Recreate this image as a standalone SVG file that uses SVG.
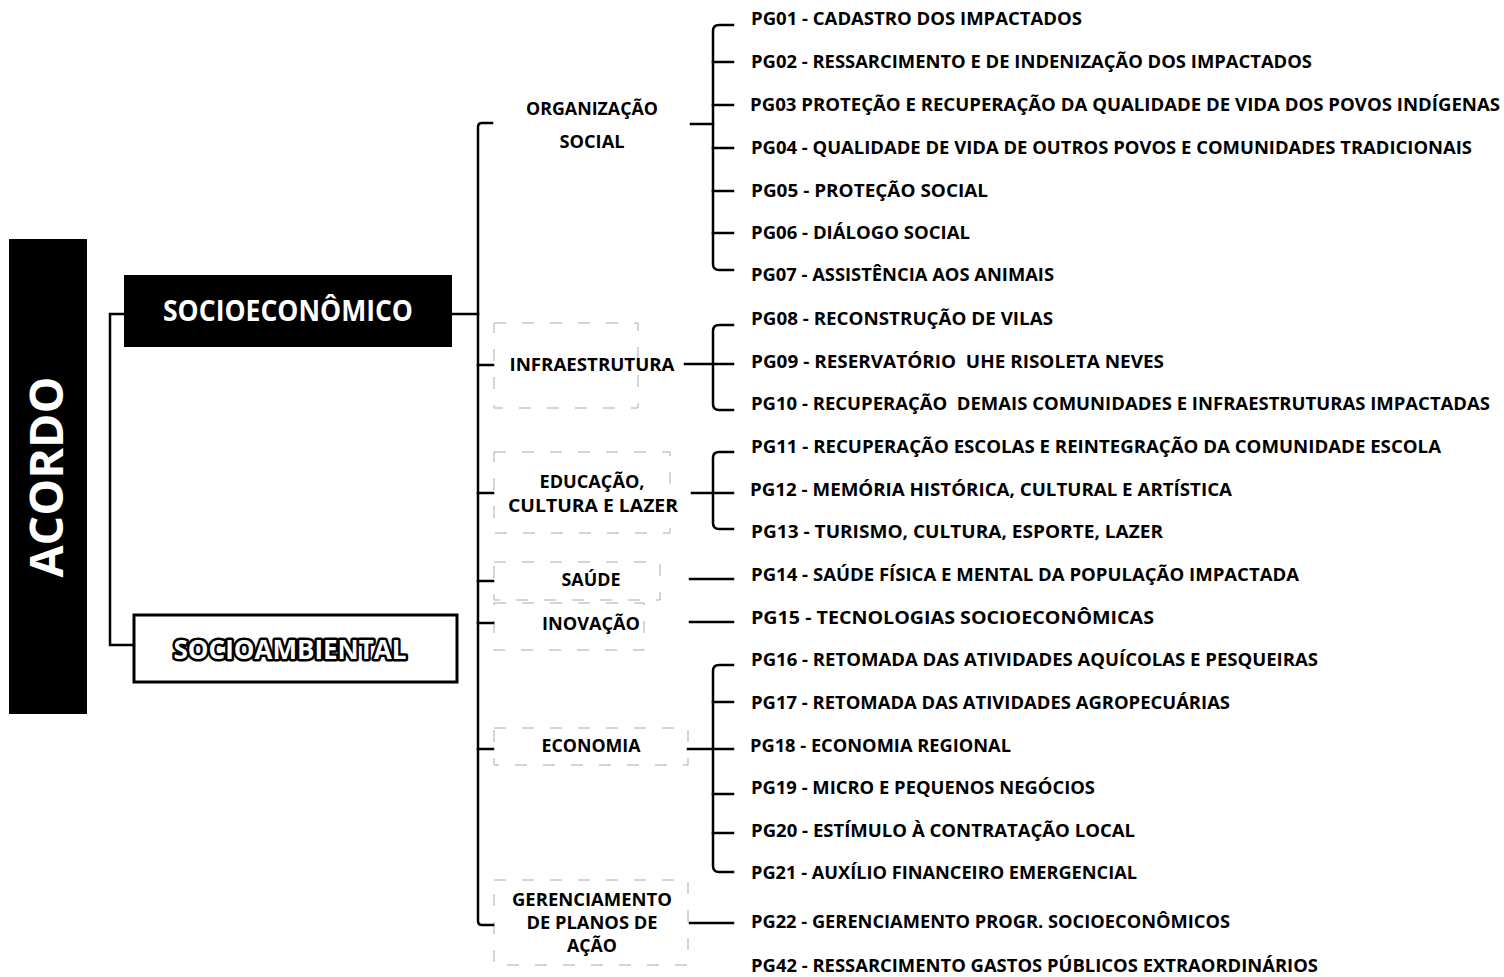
<svg xmlns="http://www.w3.org/2000/svg" width="1504" height="977" viewBox="0 0 1504 977">
<style>
text{font-family:"Open Sans","DejaVu Sans",sans-serif;font-weight:700;fill:#000}
.it{font-size:17.5px;white-space:pre}
.cat{font-size:17.5px;text-anchor:middle}
.ln{fill:none;stroke:#000;stroke-width:2.5;stroke-linecap:square}
.dash{fill:none;stroke:#aaa;stroke-width:1;stroke-dasharray:12 16}
</style>
<rect width="1504" height="977" fill="#fff"/>
<g id="acordo">
<rect x="9" y="239" width="78" height="475" fill="#000"/>
<text transform="translate(63,477) rotate(-90)" text-anchor="middle" font-size="46" style="fill:#fff" textLength="201" lengthAdjust="spacingAndGlyphs">ACORDO</text>
</g>
<g id="socioeconomico">
<rect x="124" y="275" width="328" height="72" fill="#000"/>
<text x="288" y="321" text-anchor="middle" font-size="28" style="fill:#fff" textLength="250" lengthAdjust="spacingAndGlyphs">SOCIOECONÔMICO</text>
</g>
<g id="socioambiental">
<rect x="134" y="615" width="323" height="67" fill="#fff" stroke="#000" stroke-width="3"/>
<text x="290" y="659" text-anchor="middle" font-size="26" style="fill:#fff;stroke:#000;stroke-width:5;stroke-linejoin:round;paint-order:stroke" textLength="233" lengthAdjust="spacingAndGlyphs">SOCIOAMBIENTAL</text>
</g>
<g id="category-frames">
<rect class="dash" x="494" y="323" width="144" height="85"/>
<rect class="dash" x="494" y="452" width="176" height="81"/>
<rect class="dash" x="494" y="562" width="166" height="38"/>
<rect class="dash" x="494" y="603" width="150" height="47"/>
<rect class="dash" x="494" y="728" width="194" height="37"/>
<rect class="dash" x="494" y="880" width="194" height="85"/>
</g>
<g id="cat-organizacao">
<text class="cat" x="592" y="115" textLength="132" lengthAdjust="spacingAndGlyphs">ORGANIZAÇÃO</text>
<text class="cat" x="592" y="148" textLength="65" lengthAdjust="spacingAndGlyphs">SOCIAL</text>
</g>
<g id="cat-infraestrutura"><text class="cat" x="592" y="371" textLength="165" lengthAdjust="spacingAndGlyphs">INFRAESTRUTURA</text></g>
<g id="cat-educacao">
<text class="cat" x="592" y="488" textLength="105" lengthAdjust="spacingAndGlyphs">EDUCAÇÃO,</text>
<text class="cat" x="593" y="512" textLength="170" lengthAdjust="spacingAndGlyphs">CULTURA E LAZER</text>
</g>
<g id="cat-saude"><text class="cat" x="591" y="586" textLength="59" lengthAdjust="spacingAndGlyphs">SAÚDE</text></g>
<g id="cat-inovacao"><text class="cat" x="591" y="630" textLength="98" lengthAdjust="spacingAndGlyphs">INOVAÇÃO</text></g>
<g id="cat-economia"><text class="cat" x="591" y="752" textLength="99" lengthAdjust="spacingAndGlyphs">ECONOMIA</text></g>
<g id="cat-gerenciamento">
<text class="cat" x="592" y="906" textLength="160" lengthAdjust="spacingAndGlyphs">GERENCIAMENTO</text>
<text class="cat" x="592" y="929" textLength="131" lengthAdjust="spacingAndGlyphs">DE PLANOS DE</text>
<text class="cat" x="592" y="952" textLength="50" lengthAdjust="spacingAndGlyphs">AÇÃO</text>
</g>
<g id="connectors">
<path class="ln" d="M124,314 H110 V645 H133"/>
<path class="ln" d="M452,314 H478"/>
<path class="ln" d="M492,123 H482 Q478,123 478,127 V921 Q478,925 482,925 H493"/>
<path class="ln" d="M478,365 H493 M478,493 H493 M478,581 H493 M478,623 H493 M478,749 H493"/>
<path class="ln" d="M691,124 H713"/>
<path class="ln" d="M733,25 H719 Q713,25 713,31 V264 Q713,270 719,270 H733"/>
<path class="ln" d="M713,62 H733 M713,105 H733 M713,148 H733 M713,191 H733 M713,233 H733"/>
<path class="ln" d="M685,364 H733"/>
<path class="ln" d="M733,325 H719 Q713,325 713,331 V404 Q713,410 719,410 H733"/>
<path class="ln" d="M692,493 H733"/>
<path class="ln" d="M733,452 H719 Q713,452 713,458 V523 Q713,529 719,529 H733"/>
<path class="ln" d="M690,579 H733"/>
<path class="ln" d="M690,622 H733"/>
<path class="ln" d="M688,749 H733"/>
<path class="ln" d="M733,665 H719 Q713,665 713,671 V866 Q713,872 719,872 H733"/>
<path class="ln" d="M713,702 H733 M713,794 H733 M713,833 H733"/>
<path class="ln" d="M690,923 H733"/>
</g>
<g id="items">
<text class="it" x="751" y="25" textLength="331" lengthAdjust="spacingAndGlyphs">PG01 - CADASTRO DOS IMPACTADOS</text>
<text class="it" x="751" y="68" textLength="561" lengthAdjust="spacingAndGlyphs">PG02 - RESSARCIMENTO E DE INDENIZAÇÃO DOS IMPACTADOS</text>
<text class="it" x="750" y="111" textLength="750" lengthAdjust="spacingAndGlyphs">PG03 PROTEÇÃO E RECUPERAÇÃO DA QUALIDADE DE VIDA DOS POVOS INDÍGENAS</text>
<text class="it" x="751" y="154" textLength="721" lengthAdjust="spacingAndGlyphs">PG04 - QUALIDADE DE VIDA DE OUTROS POVOS E COMUNIDADES TRADICIONAIS</text>
<text class="it" x="751" y="197" textLength="237" lengthAdjust="spacingAndGlyphs">PG05 - PROTEÇÃO SOCIAL</text>
<text class="it" x="751" y="239" textLength="219" lengthAdjust="spacingAndGlyphs">PG06 - DIÁLOGO SOCIAL</text>
<text class="it" x="751" y="281" textLength="303" lengthAdjust="spacingAndGlyphs">PG07 - ASSISTÊNCIA AOS ANIMAIS</text>
<text class="it" x="751" y="325" textLength="302" lengthAdjust="spacingAndGlyphs">PG08 - RECONSTRUÇÃO DE VILAS</text>
<text class="it" x="751" y="368" textLength="413" lengthAdjust="spacingAndGlyphs">PG09 - RESERVATÓRIO  UHE RISOLETA NEVES</text>
<text class="it" x="751" y="410" textLength="739" lengthAdjust="spacingAndGlyphs">PG10 - RECUPERAÇÃO  DEMAIS COMUNIDADES E INFRAESTRUTURAS IMPACTADAS</text>
<text class="it" x="751" y="453" textLength="690" lengthAdjust="spacingAndGlyphs">PG11 - RECUPERAÇÃO ESCOLAS E REINTEGRAÇÃO DA COMUNIDADE ESCOLA</text>
<text class="it" x="750" y="496" textLength="482" lengthAdjust="spacingAndGlyphs">PG12 - MEMÓRIA HISTÓRICA, CULTURAL E ARTÍSTICA</text>
<text class="it" x="751" y="538" textLength="412" lengthAdjust="spacingAndGlyphs">PG13 - TURISMO, CULTURA, ESPORTE, LAZER</text>
<text class="it" x="751" y="581" textLength="548" lengthAdjust="spacingAndGlyphs">PG14 - SAÚDE FÍSICA E MENTAL DA POPULAÇÃO IMPACTADA</text>
<text class="it" x="751" y="624" textLength="403" lengthAdjust="spacingAndGlyphs">PG15 - TECNOLOGIAS SOCIOECONÔMICAS</text>
<text class="it" x="751" y="666" textLength="567" lengthAdjust="spacingAndGlyphs">PG16 - RETOMADA DAS ATIVIDADES AQUÍCOLAS E PESQUEIRAS</text>
<text class="it" x="751" y="709" textLength="479" lengthAdjust="spacingAndGlyphs">PG17 - RETOMADA DAS ATIVIDADES AGROPECUÁRIAS</text>
<text class="it" x="750" y="752" textLength="261" lengthAdjust="spacingAndGlyphs">PG18 - ECONOMIA REGIONAL</text>
<text class="it" x="751" y="794" textLength="344" lengthAdjust="spacingAndGlyphs">PG19 - MICRO E PEQUENOS NEGÓCIOS</text>
<text class="it" x="751" y="837" textLength="384" lengthAdjust="spacingAndGlyphs">PG20 - ESTÍMULO À CONTRATAÇÃO LOCAL</text>
<text class="it" x="751" y="879" textLength="386" lengthAdjust="spacingAndGlyphs">PG21 - AUXÍLIO FINANCEIRO EMERGENCIAL</text>
<text class="it" x="751" y="928" textLength="479" lengthAdjust="spacingAndGlyphs">PG22 - GERENCIAMENTO PROGR. SOCIOECONÔMICOS</text>
<text class="it" x="751" y="972" textLength="567" lengthAdjust="spacingAndGlyphs">PG42 - RESSARCIMENTO GASTOS PÚBLICOS EXTRAORDINÁRIOS</text>
</g>
</svg>
